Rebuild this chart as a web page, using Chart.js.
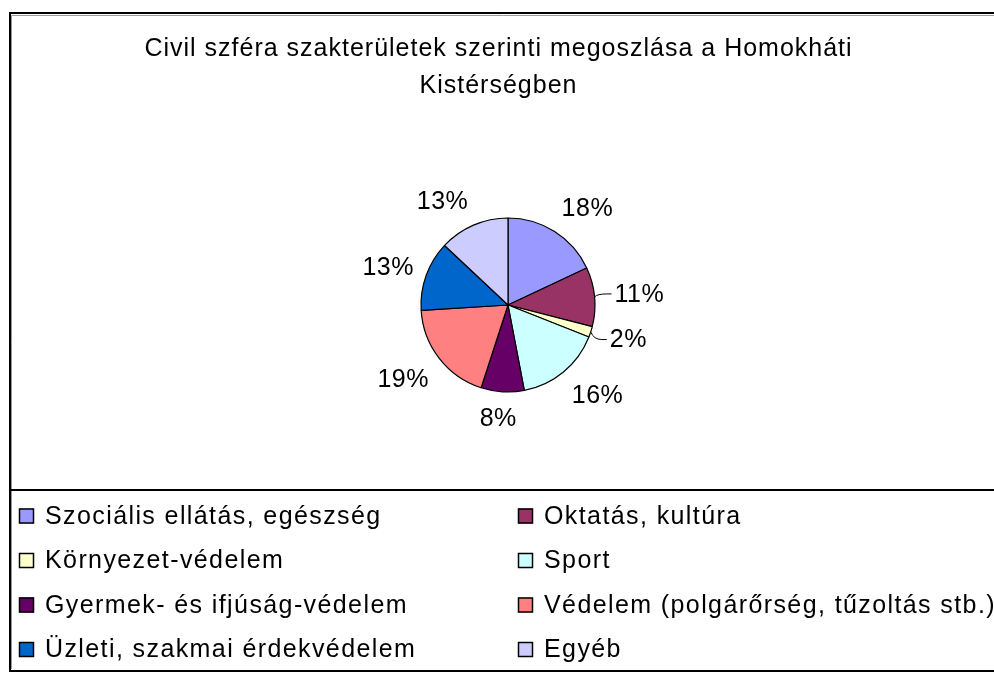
<!DOCTYPE html>
<html>
<head>
<meta charset="utf-8">
<script src="https://cdn.jsdelivr.net/npm/chart.js@4"></script>
<style>
  html, body { margin: 0; padding: 0; background: #fff; }
  #wrap { width: 994px; height: 673px; position: relative; }
</style>
</head>
<body>
<div id="wrap"><canvas id="c"></canvas></div>
<script>
const titleLines = ["Civil szféra szakterületek szerinti megoszlása a Homokháti", "Kistérségben"];
const categories = [
  "Szociális ellátás, egészség",
  "Oktatás, kultúra",
  "Környezet-védelem",
  "Sport",
  "Gyermek- és ifjúság-védelem",
  "Védelem (polgárőrség, tűzoltás stb.)",
  "Üzleti, szakmai érdekvédelem",
  "Egyéb"
];
const shares = [18, 11, 2, 16, 8, 19, 13, 13];
const sliceColors = ["#9999FF", "#993366", "#FFFFCC", "#CCFFFF", "#660066", "#FF8080", "#0066CC", "#CCCCFF"];
const leaderIndices = [1, 2];

const FONT = '"Liberation Sans", Arial, sans-serif';
const clamp = (v, a, b) => Math.max(a, Math.min(b, v));

const framePlugin = {
  id: 'frame',
  beforeDraw(chart) {
    const ctx = chart.ctx;
    ctx.save();
    ctx.fillStyle = '#fff';
    ctx.fillRect(0, 0, chart.width, chart.height);
    ctx.strokeStyle = '#000';
    ctx.lineWidth = 2;
    ctx.beginPath();
    ctx.moveTo(chart.width + 5, 13);
    ctx.lineTo(10, 13);
    ctx.lineTo(10, 671);
    ctx.lineTo(chart.width + 5, 671);
    ctx.stroke();
    ctx.strokeStyle = '#9a9a9a';
    ctx.lineWidth = 1;
    ctx.beginPath();
    ctx.moveTo(chart.width + 5, 15.5);
    ctx.lineTo(11.5, 15.5);
    ctx.lineTo(11.5, 669);
    ctx.stroke();
    ctx.strokeStyle = '#000';
    ctx.lineWidth = 2;
    ctx.beginPath();
    ctx.moveTo(10, 490);
    ctx.lineTo(chart.width + 5, 490);
    ctx.stroke();
    // title
    ctx.letterSpacing = '1px';
    ctx.font = '25px ' + FONT;
    ctx.fillStyle = '#000';
    ctx.textAlign = 'center';
    ctx.textBaseline = 'middle';
    titleLines.forEach((t, i) => ctx.fillText(t, 498.5, 49.5 + i * 37));
    ctx.restore();
  }
};

const labelPlugin = {
  id: 'sliceLabels',
  afterDatasetsDraw(chart) {
    const ctx = chart.ctx;
    const meta = chart.getDatasetMeta(0);
    const ds = chart.data.datasets[0];
    const total = ds.data.reduce((a, b) => a + b, 0);
    ctx.save();
    ctx.letterSpacing = '0.5px';
    ctx.font = '25px ' + FONT;
    ctx.fillStyle = '#000';
    ctx.textBaseline = 'middle';
    ctx.textAlign = 'center';
    meta.data.forEach((arc, i) => {
      const p = arc.getProps(['x', 'y', 'startAngle', 'endAngle', 'outerRadius'], true);
      const mid = (p.startAngle + p.endAngle) / 2;
      const txt = Math.round(ds.data[i] / total * 100) + '%';
      const w = ctx.measureText(txt).width;
      const c = Math.cos(mid), s = Math.sin(mid);
      const hw = w / 2, hh = s > 0 ? 14 : 11;
      const hasLeader = leaderIndices.includes(i);
      const R = p.outerRadius + 13 + (hasLeader ? 7 : 0);
      const ax = hw * clamp(3 * c, -1, 1);
      const ay = Math.abs(s) < 0.25 ? 0 : hh * Math.sign(s) * clamp((Math.abs(s) - 0.25) * 3, 0, 1);
      const lx = p.x + c * R + ax, ly = p.y + s * R + ay;
      ctx.fillText(txt, lx, ly);
      if (hasLeader) {
        const sx = p.x + c * p.outerRadius, sy = p.y + s * p.outerRadius;
        const left = lx - hw;
        ctx.strokeStyle = '#000';
        ctx.lineWidth = 1;
        ctx.beginPath();
        ctx.moveTo(sx, sy);
        ctx.quadraticCurveTo(sx + 3, ly - 1, left - 8, ly - 1);
        ctx.lineTo(left - 3, ly - 1);
        ctx.stroke();
      }
    });
    ctx.restore();
  }
};

const legendPlugin = {
  id: 'twoColLegend',
  afterDraw(chart) {
    const ctx = chart.ctx;
    const ds = chart.data.datasets[0];
    const colX = [19, 518];
    const rowY0 = 516, rowStep = 44.5, box = 15;
    ctx.save();
    ctx.letterSpacing = '1.4px';
    ctx.font = '25px ' + FONT;
    ctx.textBaseline = 'middle';
    ctx.textAlign = 'left';
    chart.data.labels.forEach((lab, i) => {
      const x = colX[i % 2];
      const y = rowY0 + Math.floor(i / 2) * rowStep;
      ctx.fillStyle = ds.backgroundColor[i];
      ctx.fillRect(x, y - box / 2, box, box);
      ctx.strokeStyle = '#000';
      ctx.lineWidth = 1.5;
      ctx.strokeRect(x + 0.5, y - box / 2 + 0.5, box - 1, box - 1);
      ctx.fillStyle = '#000';
      ctx.fillText(lab, x + box + 11, y + 1);
    });
    ctx.restore();
  }
};

new Chart(document.getElementById('c'), {
  type: 'pie',
  data: {
    labels: categories,
    datasets: [{
      data: shares,
      backgroundColor: sliceColors,
      borderColor: '#000',
      borderWidth: 1.2,
      radius: 87
    }]
  },
  options: {
    responsive: true,
    maintainAspectRatio: false,
    animation: false,
    events: [],
    layout: { padding: { left: 22, right: 0, top: 205, bottom: 268 } },
    plugins: {
      legend: { display: false },
      tooltip: { enabled: false },
      title: { display: false }
    }
  },
  plugins: [framePlugin, labelPlugin, legendPlugin]
});
</script>
</body>
</html>
